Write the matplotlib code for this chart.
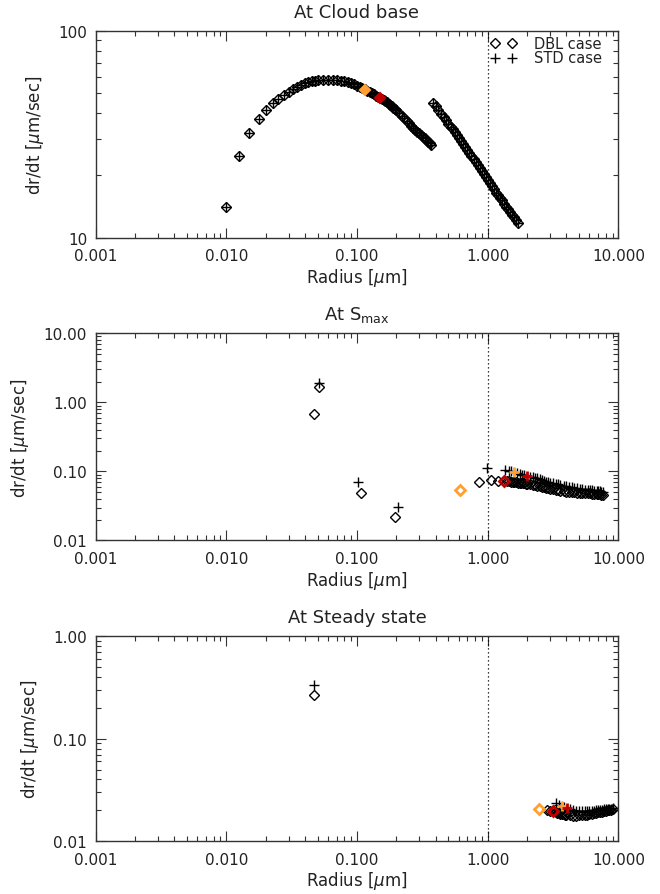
import numpy as np
import matplotlib
matplotlib.use("Agg")
import matplotlib.pyplot as plt
from matplotlib.ticker import FixedLocator, FixedFormatter, LogLocator, NullFormatter

# ---- At cloud base (DBL and STD coincide) ----
cb_r1 = [0.0100, 0.0126, 0.0150, 0.0177, 0.0201, 0.0227, 0.0250, 0.0275, 0.0300,
         0.0325, 0.0350, 0.0375, 0.0400, 0.0425, 0.0450, 0.0475,
         0.050, 0.055, 0.060, 0.065, 0.070, 0.075, 0.080, 0.085, 0.090, 0.095,
         0.100, 0.105, 0.110, 0.115, 0.120, 0.125, 0.130, 0.135, 0.140, 0.145,
         0.150, 0.155, 0.160, 0.165, 0.170, 0.175, 0.180, 0.185, 0.190, 0.195,
         0.200, 0.210, 0.220, 0.230, 0.240, 0.250, 0.260, 0.270, 0.280, 0.290,
         0.300, 0.310, 0.320, 0.330, 0.340, 0.350, 0.360, 0.370]
cb_v1 = [14.0, 24.7, 32.0, 37.3, 41.2, 44.6, 46.7, 48.9, 50.7,
         52.3, 53.6, 54.7, 55.6, 56.2, 56.8, 57.2,
         57.5, 57.9, 58.0, 58.0, 57.8, 57.4, 57.0, 56.5, 55.8, 55.0,
         54.2, 53.4, 52.6, 52.0, 51.3, 50.6, 49.9, 49.2, 48.5, 47.9,
         47.5, 46.8, 46.2, 45.6, 45.0, 44.3, 43.6, 43.0, 42.3, 41.8,
         41.2, 40.0, 38.8, 37.7, 36.7, 35.8, 34.8, 34.0, 33.2, 32.5,
         31.9, 31.3, 30.7, 30.2, 29.7, 29.0, 28.6, 28.1]
cb_r2 = [0.383, 0.40, 0.42, 0.44, 0.46, 0.48, 0.50, 0.52, 0.54, 0.56, 0.58,
         0.60, 0.62, 0.645, 0.67, 0.695, 0.72, 0.75, 0.78, 0.81, 0.84, 0.87,
         0.90, 0.935, 0.97, 1.005, 1.04, 1.08, 1.12, 1.16, 1.20, 1.24, 1.28,
         1.325, 1.37, 1.42, 1.47, 1.525, 1.58, 1.635, 1.69]
cb_v2 = [44.6, 43.0, 41.4, 39.6, 38.3, 36.9, 35.5, 34.3, 33.3, 32.2, 31.2,
         30.2, 29.3, 28.3, 27.4, 26.5, 25.7, 24.8, 23.9, 23.1, 22.3, 21.6,
         21.0, 20.3, 19.6, 19.0, 18.4, 17.7, 17.1, 16.5, 16.0, 15.5, 15.1,
         14.6, 14.1, 13.7, 13.3, 12.9, 12.5, 12.1, 11.8]
cb_orange = (0.1158, 51.9)
cb_red = (0.1508, 47.5)

# ---- At S_max ----
sm_dbl_r = [0.0470, 0.0509, 0.1066, 0.1938, 0.852, 1.05, 1.20,
            1.40, 1.45, 1.50, 1.55, 1.60, 1.65, 1.70, 1.75, 1.80, 1.85, 1.90,
            1.95, 2.00, 2.1, 2.2, 2.3, 2.4, 2.5, 2.6, 2.7, 2.8, 2.9, 3.0,
            3.15, 3.3, 3.45, 3.6, 3.8, 4.0, 4.2, 4.4, 4.6, 4.8, 5.05, 5.3,
            5.55, 5.8, 6.05, 6.3, 6.55, 6.8, 7.0, 7.2, 7.4, 7.6]
sm_dbl_v = [0.683, 1.65, 0.0487, 0.0220, 0.0709, 0.0740, 0.0728,
            0.0724, 0.0720, 0.0714, 0.0707, 0.0700, 0.0695, 0.0690, 0.0685,
            0.0680, 0.0676, 0.0672, 0.0668, 0.0664, 0.0652, 0.0640, 0.0630,
            0.0620, 0.0610, 0.0600, 0.0590, 0.0580, 0.0571, 0.0562, 0.0550,
            0.0540, 0.0532, 0.0525, 0.0516, 0.0508, 0.0504, 0.0500, 0.0497,
            0.0494, 0.0491, 0.0488, 0.0485, 0.0482, 0.0479, 0.0476, 0.0473,
            0.0470, 0.0468, 0.0465, 0.0463, 0.0462]
sm_std_r = [0.0509, 0.1013, 0.207, 0.99, 1.36, 1.45, 1.50, 1.68, 1.75, 1.82,
            1.90, 2.1, 2.2, 2.3, 2.4, 2.5, 2.6, 2.7, 2.8, 2.9, 3.0, 3.15, 3.3,
            3.45, 3.6, 3.8, 4.0, 4.2, 4.4, 4.6, 4.8, 5.05, 5.3, 5.55, 5.8,
            6.05, 6.3, 6.55, 6.8, 7.0, 7.2, 7.4, 7.6]
sm_std_v = [1.89, 0.0702, 0.0306, 0.1128, 0.1045, 0.1020, 0.1000, 0.0950,
            0.0920, 0.0900, 0.0880, 0.0840, 0.0830, 0.0810, 0.0790, 0.0770,
            0.0750, 0.0730, 0.0710, 0.0698, 0.0686, 0.0672, 0.0660, 0.0648,
            0.0635, 0.0622, 0.0611, 0.0600, 0.0590, 0.0580, 0.0570, 0.0562,
            0.0555, 0.0547, 0.0540, 0.0535, 0.0530, 0.0526, 0.0522, 0.0518,
            0.0515, 0.0508, 0.0500]
sm_dbl_orange = (0.613, 0.0544)
sm_dbl_red = (1.32, 0.0728)
sm_std_orange = (1.59, 0.0978)
sm_std_red = (2.0, 0.0857)

# ---- At steady state ----
ss_dbl_r = [0.0469, 2.85, 3.0, 3.3, 3.4, 3.5, 3.6, 3.7, 3.8, 3.9, 4.0, 4.25,
            4.5, 4.75, 5.0, 5.25, 5.5, 5.75, 6.0, 6.25, 6.5, 6.75, 7.0, 7.25,
            7.5, 7.75, 8.0, 8.25, 8.5, 8.75, 9.0]
ss_dbl_v = [0.268, 0.0200, 0.0197, 0.0192, 0.0190, 0.0188, 0.0186, 0.0185,
            0.0183, 0.0182, 0.0181, 0.0179, 0.0178, 0.0178, 0.0179, 0.0180,
            0.0181, 0.0182, 0.0184, 0.0185, 0.0187, 0.0189, 0.0191, 0.0193,
            0.0194, 0.0196, 0.0198, 0.0200, 0.0202, 0.0203, 0.0205]
ss_std_r = [0.0469, 3.33, 3.5, 3.85, 4.25, 4.5, 4.75, 5.0, 5.25, 5.5, 5.75,
            6.0, 6.25, 6.5, 6.75, 7.0, 7.25, 7.5, 7.75, 8.0, 8.25, 8.5, 8.75,
            9.0]
ss_std_v = [0.335, 0.0235, 0.0226, 0.0216, 0.0206, 0.0202, 0.0199, 0.0197,
            0.0196, 0.0196, 0.0196, 0.0197, 0.0198, 0.0199, 0.0200, 0.0201,
            0.0202, 0.0203, 0.0204, 0.0205, 0.0206, 0.0207, 0.0208, 0.0209]
ss_dbl_orange = (2.48, 0.0208)
ss_dbl_red = (3.17, 0.0196)
ss_std_orange = (3.68, 0.0220)
ss_std_red = (4.06, 0.0211)

x_ticks = [0.001, 0.01, 0.1, 1.0, 10.0]
x_ticklabels = ['0.001', '0.010', '0.100', '1.000', '10.000']
legend_labels = ['DBL case', 'STD case']

ORANGE = '#ffa030'
RED = '#c00000'
D_MS = 5.0
P_MS = 7.0

plt.rcParams['font.family'] = ['DejaVu Sans']
plt.rcParams['mathtext.fontset'] = 'dejavusans'


def style_axis(ax, title, yticks, ylabels, ylim):
    ax.set_xscale('log')
    ax.set_yscale('log')
    ax.set_xlim(0.001, 10.0)
    ax.set_ylim(*ylim)
    ax.xaxis.set_major_locator(FixedLocator(x_ticks))
    ax.xaxis.set_major_formatter(FixedFormatter(x_ticklabels))
    ax.xaxis.set_minor_locator(LogLocator(base=10, subs=np.arange(2, 10)))
    ax.xaxis.set_minor_formatter(NullFormatter())
    ax.yaxis.set_major_locator(FixedLocator(yticks))
    ax.yaxis.set_major_formatter(FixedFormatter(ylabels))
    ax.yaxis.set_minor_locator(LogLocator(base=10, subs=np.arange(2, 10)))
    ax.yaxis.set_minor_formatter(NullFormatter())
    ax.tick_params(which='both', direction='in', top=True, right=True,
                   labelsize=11, width=0.8, color='#333333', labelcolor='#222222')
    ax.tick_params(which='major', length=7)
    ax.tick_params(which='minor', length=3.5)
    ax.tick_params(axis='x', which='major', pad=7.5)
    ax.tick_params(axis='y', which='major', pad=6)
    for s in ax.spines.values():
        s.set_linewidth(1.0)
        s.set_color('#333333')
    ax.set_title(title, fontsize=13, pad=10, color='#222222')
    ax.set_xlabel(r'Radius [$\mu$m]', fontsize=12, labelpad=2, color='#222222')
    ax.set_ylabel(r'dr/dt [$\mu$m/sec]', fontsize=12, labelpad=9, color='#222222')
    ax.axvline(1.0, color='k', lw=0.9, ls=(0, (1, 2.2)))


def diamonds(ax, r, v, color='k', ms=D_MS, mew=1.0, filled=False, **kw):
    ax.plot(r, v, ls='none', marker='D', ms=ms, mec=color,
            mfc=color if filled else 'none', mew=mew, **kw)


def pluses(ax, r, v, color='k', ms=P_MS, mew=1.0, **kw):
    ax.plot(r, v, ls='none', marker='+', ms=ms, mec=color, mew=mew, **kw)


fig = plt.figure(figsize=(6.6, 8.95), dpi=100)
left, width = 0.1447, 0.7924
ax1 = fig.add_axes([left, 0.7335, width, 0.2311])
ax2 = fig.add_axes([left, 0.3950, width, 0.2315])
ax3 = fig.add_axes([left, 0.0590, width, 0.2290])

# panel 1
style_axis(ax1, 'At Cloud base', [10, 100], ['10', '100'], (10, 100))
for r, v in ((cb_r1, cb_v1), (cb_r2, cb_v2)):
    diamonds(ax1, r, v)
    pluses(ax1, r, v)
diamonds(ax1, [cb_orange[0]], [cb_orange[1]], ORANGE, ms=5.2, mew=1.5, filled=True)
diamonds(ax1, [cb_red[0]], [cb_red[1]], RED, ms=5.2, mew=1.5, filled=True)

# legend drawn by hand, IDL style (two symbols per row)
tr = ax1.transAxes
diamonds(ax1, [0.764, 0.797], [0.940, 0.940], transform=tr, clip_on=False)
pluses(ax1, [0.764, 0.797], [0.868, 0.868], transform=tr, clip_on=False)
ax1.text(0.838, 0.940, legend_labels[0], transform=tr, fontsize=10.5,
         va='center', ha='left', color='#222222')
ax1.text(0.838, 0.868, legend_labels[1], transform=tr, fontsize=10.5,
         va='center', ha='left', color='#222222')

# panel 2
style_axis(ax2, r'At S$_{\mathrm{max}}$', [0.01, 0.1, 1, 10],
           ['0.01', '0.10', '1.00', '10.00'], (0.01, 10))
diamonds(ax2, sm_dbl_r, sm_dbl_v)
pluses(ax2, sm_std_r, sm_std_v)
diamonds(ax2, [sm_dbl_orange[0]], [sm_dbl_orange[1]], ORANGE, mew=2.0)
diamonds(ax2, [sm_dbl_red[0]], [sm_dbl_red[1]], RED, mew=2.0)
pluses(ax2, [sm_std_orange[0]], [sm_std_orange[1]], ORANGE, ms=7.5, mew=2.0)
pluses(ax2, [sm_std_red[0]], [sm_std_red[1]], RED, ms=7.5, mew=2.0)

# panel 3
style_axis(ax3, 'At Steady state', [0.01, 0.1, 1],
           ['0.01', '0.10', '1.00'], (0.01, 1))
diamonds(ax3, ss_dbl_r, ss_dbl_v)
pluses(ax3, ss_std_r, ss_std_v)
diamonds(ax3, [ss_dbl_orange[0]], [ss_dbl_orange[1]], ORANGE, mew=2.0)
diamonds(ax3, [ss_dbl_red[0]], [ss_dbl_red[1]], RED, mew=2.0)
pluses(ax3, [ss_std_orange[0]], [ss_std_orange[1]], ORANGE, ms=7.5, mew=2.0)
pluses(ax3, [ss_std_red[0]], [ss_std_red[1]], RED, ms=7.5, mew=2.0)

fig.savefig('out.png', dpi=100)
